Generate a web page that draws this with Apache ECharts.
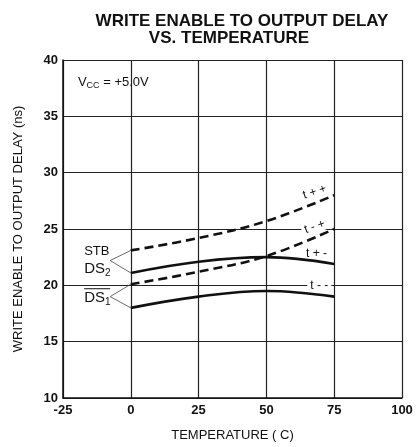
<!DOCTYPE html>
<html>
<head>
<meta charset="utf-8">
<script src="https://cdn.jsdelivr.net/npm/echarts@6/dist/echarts.min.js"></script>
<style>
html, body { margin: 0; padding: 0; background: #fff; }
#chart { width: 416px; height: 447px; }
</style>
</head>
<body>
<div id="chart"></div>
<script>
var temps = [0, 25, 50, 75];
var tPlusPlus = [23.1, 24.2, 25.7, 28.0];
var tMinusPlus = [20.1, 21.2, 22.6, 25.0];
var tPlusMinus = [21.1, 22.1, 22.5, 21.9];
var tMinusMinus = [18.0, 19.0, 19.5, 19.0];
var xTicks = [-25, 0, 25, 50, 75, 100];
var yTicks = [10, 15, 20, 25, 30, 35, 40];

function pairs(ys) {
	return temps.map(function (t, i) { return [t, ys[i]]; });
}

var font = '"Liberation Sans", Arial, sans-serif';
var chart = echarts.init(document.getElementById('chart'));

function curve(name, ys, dashed) {
	return {
		name: name,
		type: 'line',
		smooth: 0.4,
		symbol: 'none',
		data: pairs(ys),
		lineStyle: { color: '#111', width: 2.6, type: dashed ? [9, 5] : 'solid' },
		z: 20
	};
}

var option = {
	animation: false,
	title: [
		{ text: 'WRITE ENABLE TO OUTPUT DELAY', left: 237, top: 8, textAlign: 'center',
			textStyle: { fontFamily: font, fontWeight: 'bold', fontSize: 17, color: '#111' } },
		{ text: 'VS. TEMPERATURE', left: 224, top: 25, textAlign: 'center',
			textStyle: { fontFamily: font, fontWeight: 'bold', fontSize: 17, color: '#111' } }
	],
	grid: { left: 63, right: 14, top: 60, bottom: 44, containLabel: false },
	xAxis: {
		type: 'value', min: xTicks[0], max: xTicks[xTicks.length - 1], interval: 25,
		name: 'TEMPERATURE ( C)', nameLocation: 'middle', nameGap: 31,
		nameTextStyle: { fontFamily: font, fontSize: 13, color: '#111' },
		axisLine: { onZero: false, lineStyle: { color: '#111', width: 1.5 } },
		axisTick: { show: false },
		axisLabel: { fontFamily: font, fontSize: 13, color: '#111', fontWeight: 'bold', margin: 6 },
		splitLine: { lineStyle: { color: '#222', width: 1.2 } }
	},
	yAxis: {
		type: 'value', min: yTicks[0], max: yTicks[yTicks.length - 1], interval: 5,
		name: 'WRITE ENABLE TO OUTPUT DELAY (ns)', nameLocation: 'middle', nameGap: 38,
		nameTextStyle: { fontFamily: font, fontSize: 13, color: '#111' },
		axisLine: { show: true, onZero: false, lineStyle: { color: '#111', width: 1.5 } },
		axisTick: { show: false },
		axisLabel: { fontFamily: font, fontSize: 13, color: '#111', fontWeight: 'bold', margin: 5 },
		splitLine: { lineStyle: { color: '#222', width: 1.2 } }
	},
	series: [
		curve('t + +', tPlusPlus, true),
		curve('t - +', tMinusPlus, true),
		curve('t + -', tPlusMinus, false),
		curve('t - -', tMinusMinus, false)
	]
};
chart.setOption(option);

// annotations placed in data coordinates
function px(x, y) { return chart.convertToPixel({ gridIndex: 0 }, [x, y]); }

var curveLabels = [
	{ text: 't + +', at: [67.8, 28.3], rot: 0.32 },
	{ text: 't - +', at: [67.8, 25.2], rot: 0.32 },
	{ text: 't + -', at: [68.5, 22.8], rot: 0 },
	{ text: 't - -', at: [69.5, 20.0], rot: 0 }
];
var graphics = [];
curveLabels.forEach(function (c) {
	var p = px(c.at[0], c.at[1]);
	graphics.push({
		type: 'text', x: p[0], y: p[1], rotation: c.rot, z: 3,
		style: { text: c.text, fontFamily: font, fontSize: 12, fill: '#111',
			align: 'center', verticalAlign: 'middle', backgroundColor: '#fff', padding: [0, 3] }
	});
});

// bracket lines to the curve starts
var brackets = [
	{ from: [-7.6, 22.2], to: [[0, tPlusPlus[0]], [0, tPlusMinus[0]]] },
	{ from: [-7.6, 19.0], to: [[0, tMinusPlus[0]], [0, tMinusMinus[0]]] }
];
brackets.forEach(function (b) {
	var a = px(b.from[0], b.from[1]);
	b.to.forEach(function (t) {
		var e = px(t[0], t[1]);
		graphics.push({ type: 'line', z: 3,
			shape: { x1: a[0], y1: a[1], x2: e[0], y2: e[1] },
			style: { stroke: '#444', lineWidth: 0.8 } });
	});
});

var stb = px(-17.2, 23.0);
graphics.push({ type: 'text', x: stb[0], y: stb[1], z: 3,
	style: { text: 'STB', fontFamily: font, fontSize: 13, fill: '#111', verticalAlign: 'middle' } });
var ds2 = px(-17.2, 21.5);
graphics.push({ type: 'text', x: ds2[0], y: ds2[1], z: 3,
	style: { text: '{a|DS}{b|2}', fontFamily: font, verticalAlign: 'middle',
		rich: { a: { fontSize: 15, fill: '#111', fontFamily: font }, b: { fontSize: 10, fill: '#111', fontFamily: font, padding: [9, 0, 0, 0] } } } });
var ds1 = px(-17.2, 18.9);
graphics.push({ type: 'text', x: ds1[0], y: ds1[1], z: 3,
	style: { text: '{a|DS}{b|1}', fontFamily: font, verticalAlign: 'middle',
		rich: { a: { fontSize: 15, fill: '#111', fontFamily: font }, b: { fontSize: 10, fill: '#111', fontFamily: font, padding: [9, 0, 0, 0] } } } });
graphics.push({ type: 'line', z: 3,
	shape: { x1: ds1[0], y1: ds1[1] - 9, x2: ds1[0] + 26, y2: ds1[1] - 9 },
	style: { stroke: '#111', lineWidth: 1 } });

var vcc = px(-19.5, 38);
graphics.push({ type: 'text', x: vcc[0], y: vcc[1], z: 3,
	style: { text: '{a|V}{b|CC}{a| = +5.0V}', fontFamily: font, verticalAlign: 'middle',
		rich: { a: { fontSize: 13, fill: '#111', fontFamily: font }, b: { fontSize: 9, fill: '#111', fontFamily: font, padding: [6, 0, 0, 0] } } } });

chart.setOption({ graphic: graphics });
</script>
</body>
</html>
